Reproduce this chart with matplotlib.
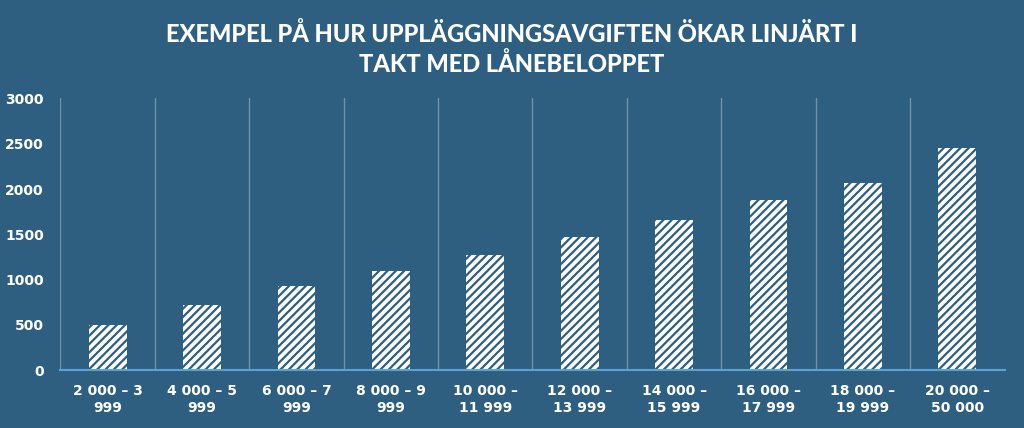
import matplotlib.pyplot as plt
import numpy as np

categories = ["2 000 – 3\n999", "4 000 – 5\n999", "6 000 – 7\n999", "8 000 – 9\n999",
              "10 000 –\n11 999", "12 000 –\n13 999", "14 000 –\n15 999", "16 000 –\n17 999",
              "18 000 –\n19 999", "20 000 –\n50 000"]
fees = [500, 720, 930, 1100, 1270, 1470, 1660, 1880, 2070, 2450]

bg = "#2e5f80"
plt.rcParams["hatch.color"] = bg
plt.rcParams["hatch.linewidth"] = 1.6

fig = plt.figure(figsize=(10.24, 4.28), dpi=100, facecolor=bg)
ax = fig.add_axes([0.059, 0.135, 0.922, 0.635], facecolor=bg)

x = np.arange(len(categories))
ax.bar(x, fees, width=0.4, color="white", hatch="////", edgecolor=bg, linewidth=0)

ax.set_xlim(-0.5, len(categories) - 0.5)
ax.set_ylim(0, 3000)
ax.set_yticks(range(0, 3001, 500))
ax.set_xticks(x)
ax.set_xticklabels(categories, color="white", fontsize=10, fontweight="bold",
                   family="DejaVu Sans", linespacing=1.3)
for lbl in ax.get_yticklabels():
    lbl.set_color("white")
    lbl.set_fontsize(10)
    lbl.set_fontweight("bold")
ax.tick_params(length=0, pad=10)
ax.tick_params(axis="y", pad=12)

for b in np.arange(-0.5, len(categories), 1.0)[:-1]:
    ax.axvline(b, color="#6f93ad", linewidth=1)
for s in ["top", "right", "left"]:
    ax.spines[s].set_visible(False)
ax.spines["bottom"].set_color("#5aa3d6")
ax.spines["bottom"].set_linewidth(1.5)

fig.text(0.5, 0.885, "EXEMPEL PÅ HUR UPPLÄGGNINGSAVGIFTEN ÖKAR LINJÄRT I\nTAKT MED LÅNEBELOPPET",
         ha="center", va="center", color="white", fontsize=17, fontweight="black",
         family="Lato", linespacing=1.3)

fig.savefig("out.png", dpi=100, facecolor=bg)
